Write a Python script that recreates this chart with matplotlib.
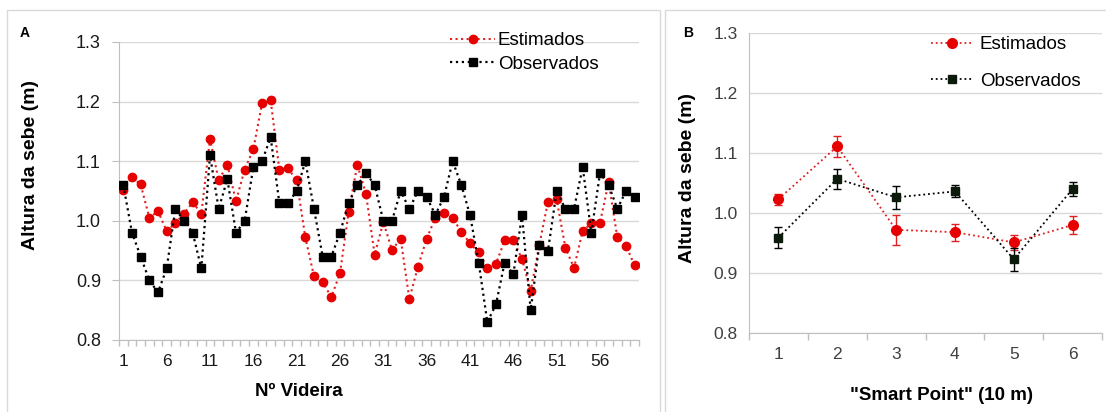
import matplotlib
matplotlib.use("Agg")
import matplotlib.pyplot as plt
from matplotlib.patches import Rectangle
from matplotlib.lines import Line2D
import numpy as np

# ---------------- data ----------------
videira = list(range(1, 61))
estimados_A = [1.051, 1.073, 1.061, 1.005, 1.016, 0.983, 0.996, 1.012, 1.031, 1.012,
               1.137, 1.068, 1.094, 1.033, 1.086, 1.120, 1.197, 1.202, 1.086, 1.088,
               1.068, 0.972, 0.907, 0.897, 0.872, 0.912, 1.015, 1.094, 1.045, 0.943,
               0.998, 0.951, 0.970, 0.869, 0.923, 0.970, 1.005, 1.013, 1.004, 0.982,
               0.962, 0.947, 0.921, 0.928, 0.967, 0.967, 0.936, 0.882, 0.960, 1.032,
               1.036, 0.955, 0.921, 0.983, 0.996, 0.997, 1.065, 0.972, 0.958, 0.925]
observados_A = [1.06, 0.98, 0.94, 0.90, 0.88, 0.92, 1.02, 1.00, 0.98, 0.92,
                1.11, 1.02, 1.07, 0.98, 1.00, 1.09, 1.10, 1.14, 1.03, 1.03,
                1.05, 1.10, 1.02, 0.94, 0.94, 0.98, 1.03, 1.06, 1.08, 1.06,
                1.00, 1.00, 1.05, 1.02, 1.05, 1.04, 1.01, 1.04, 1.10, 1.06,
                1.01, 0.93, 0.83, 0.86, 0.93, 0.91, 1.01, 0.85, 0.96, 0.95,
                1.05, 1.02, 1.02, 1.09, 0.98, 1.08, 1.06, 1.02, 1.05, 1.04]
xticks_A = [1, 6, 11, 16, 21, 26, 31, 36, 41, 46, 51, 56]
yticks = [0.8, 0.9, 1.0, 1.1, 1.2, 1.3]

smart_point = [1, 2, 3, 4, 5, 6]
estimados_B = [1.023, 1.111, 0.972, 0.968, 0.951, 0.980]
estimados_B_err = [0.009, 0.017, 0.025, 0.014, 0.012, 0.015]
observados_B = [0.959, 1.057, 1.026, 1.036, 0.923, 1.040]
observados_B_err = [0.018, 0.017, 0.019, 0.010, 0.019, 0.011]

RED = '#e60000'
RED_LINE = '#e02020'
BLACK = '#000000'
DKGREEN = '#0c1a0c'
GRID = '#d9d9d9'
SPINE = '#bfbfbf'

W, H = 1106, 412
fig = plt.figure(figsize=(W / 100, H / 100), dpi=100)
plt.rcParams['font.family'] = ['Liberation Sans', 'DejaVu Sans']

def fx(px):
    return px / W

def fy(py):
    return 1 - py / H

# panel frames
fig.patches.append(Rectangle((fx(7), fy(H + 5)), fx(660 - 7), fy(10) - fy(H + 5),
                             transform=fig.transFigure, fill=False, ec=GRID, lw=1))
fig.patches.append(Rectangle((fx(665), fy(H + 5)), fx(1110 - 665), fy(10) - fy(H + 5),
                             transform=fig.transFigure, fill=False, ec=GRID, lw=1))

narrow = ['Liberation Sans Narrow', 'Liberation Sans', 'DejaVu Sans']

# ---------------- Panel A ----------------
axA = fig.add_axes([fx(119), fy(340), fx(639 - 119), fy(42) - fy(340)])
axA.plot(videira, estimados_A, linestyle=':', color=RED_LINE, lw=1.5, marker='o',
         ms=6, mfc=RED, mec=RED, label='Estimados', zorder=3)
axA.plot(videira, observados_A, linestyle=':', color=BLACK, lw=1.6, marker='s',
         ms=6, mfc=BLACK, mec=BLACK, label='Observados', zorder=4)
axA.set_xlim(0.5, 60.5)
axA.set_ylim(0.8, 1.3)
axA.set_yticks(yticks)
axA.set_yticklabels([f'{v:.1f}' for v in yticks])
axA.set_xticks(xticks_A)
axA.set_xticks(np.arange(0.5, 61, 1), minor=True)
axA.tick_params(axis='x', which='major', length=0, pad=10, labelsize=12.5,
                labelcolor='#1a1a1a')
for t in axA.get_xticklabels():
    t.set_family(narrow)
axA.tick_params(axis='x', which='minor', length=4, color=SPINE, width=1)
axA.tick_params(axis='y', length=5, color=SPINE, labelsize=13, pad=8,
                labelcolor='#1a1a1a')
axA.grid(axis='y', color=GRID, lw=1)
axA.set_axisbelow(True)
for s in ['top', 'right']:
    axA.spines[s].set_visible(False)
for s in ['left', 'bottom']:
    axA.spines[s].set_color(SPINE)
fig.text(fx(31), fy(165), 'Altura da sebe (m)', rotation=90, fontsize=14,
         fontweight='bold', ha='center', va='center')
fig.text(fx(299), fy(391), 'Nº Videira', fontsize=13.5, fontweight='bold',
         ha='center', va='center', family=narrow)
fig.text(fx(20), fy(33), 'A', fontsize=10, fontweight='bold', ha='left', va='center')
axA.legend(loc='upper left', bbox_to_anchor=(fx(450), fy(32)),
           bbox_transform=fig.transFigure, frameon=False, fontsize=13.5,
           handlelength=2.4, handletextpad=0.15, labelspacing=0.36,
           borderpad=0, borderaxespad=0)

# ---------------- Panel B ----------------
axB = fig.add_axes([fx(749), fy(333), fx(1102 - 749), fy(33) - fy(333)])
axB.errorbar(smart_point, estimados_B, yerr=estimados_B_err, linestyle=':',
             color=RED_LINE, lw=1.3, marker='o', ms=7, mfc=RED, mec=RED,
             ecolor=RED_LINE, elinewidth=1, capsize=3, zorder=3)
axB.errorbar(smart_point, observados_B, yerr=observados_B_err, linestyle=':',
             color=BLACK, lw=1.3, marker='s', ms=5.5, mfc=DKGREEN, mec=DKGREEN,
             ecolor=BLACK, elinewidth=1, capsize=3, zorder=4)
axB.set_xlim(0.5, 6.5)
axB.set_ylim(0.8, 1.3)
axB.set_yticks(yticks)
axB.set_yticklabels([f'{v:.1f}' for v in yticks])
axB.set_xticks(smart_point)
axB.set_xticks(np.arange(0.5, 7, 1), minor=True)
axB.tick_params(axis='x', which='major', length=0, pad=10, labelsize=12.5,
                labelcolor='#404040')
axB.tick_params(axis='x', which='minor', length=5, color=SPINE, width=1)
axB.tick_params(axis='y', length=0, labelsize=12.5, pad=8, labelcolor='#404040')
axB.grid(axis='y', color=GRID, lw=1)
axB.set_axisbelow(True)
for s in ['top', 'right']:
    axB.spines[s].set_visible(False)
for s in ['left', 'bottom']:
    axB.spines[s].set_color(SPINE)
fig.text(fx(687), fy(178), 'Altura da sebe (m)', rotation=90, fontsize=14,
         fontweight='bold', ha='center', va='center')
fig.text(fx(942), fy(396), '"Smart Point" (10 m)', fontsize=13.5, fontweight='bold',
         ha='center', va='center')
fig.text(fx(688), fy(33), 'B', fontsize=10, fontweight='bold', ha='center', va='center')
handlesB = [Line2D([], [], linestyle=':', color=RED_LINE, lw=1.3, marker='o', ms=7,
                   mfc=RED, mec=RED),
            Line2D([], [], linestyle=':', color=BLACK, lw=1.3, marker='s', ms=5.5,
                   mfc=DKGREEN, mec=DKGREEN)]
axB.legend(handlesB, ['Estimados', 'Observados'], loc='upper left',
           bbox_to_anchor=(fx(931), fy(36)),
           bbox_transform=fig.transFigure, frameon=False, fontsize=13.5,
           handlelength=2.2, handletextpad=0.4, labelspacing=1.05,
           borderpad=0, borderaxespad=0)

fig.savefig('out.png', dpi=100)
